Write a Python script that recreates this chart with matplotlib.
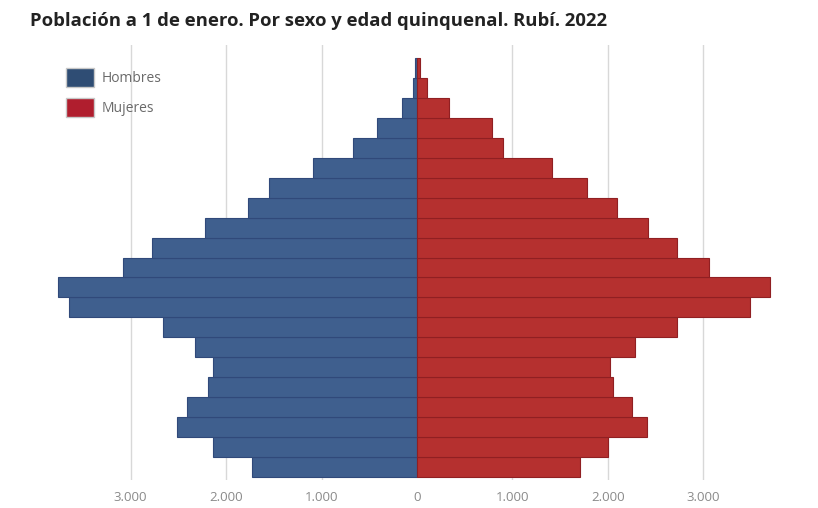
import matplotlib
matplotlib.use("Agg")
import matplotlib.pyplot as plt
from matplotlib.patches import Patch

age_groups = ["0-4", "5-9", "10-14", "15-19", "20-24", "25-29", "30-34", "35-39",
              "40-44", "45-49", "50-54", "55-59", "60-64", "65-69", "70-74", "75-79",
              "80-84", "85-89", "90-94", "95-99", "100+"]
hombres = [1728, 2136, 2513, 2408, 2188, 2136, 2325, 2660, 3644, 3759, 3079,
           2775, 2220, 1770, 1550, 1089, 670, 419, 157, 42, 21]
mujeres = [1707, 2000, 2408, 2251, 2052, 2021, 2283, 2723, 3487, 3696, 3058,
           2723, 2419, 2094, 1780, 1414, 900, 785, 335, 105, 31]
tick_values = [-3000, -2000, -1000, 0, 1000, 2000, 3000]
tick_labels = ["3.000", "2.000", "1.000", "0", "1.000", "2.000", "3.000"]

plt.rcParams['font.family'] = ['Open Sans', 'DejaVu Sans']

fig = plt.figure(figsize=(8.18, 5.08), dpi=100)
W, H = 818, 508
ax_left, ax_right, ax_top, ax_bottom = 40, 795, 45, 480
ax = fig.add_axes([ax_left / W, 1 - ax_bottom / H, (ax_right - ax_left) / W, (ax_bottom - ax_top) / H])

blue = "#3f5f8e"
red = "#b5302f"
y = list(range(len(age_groups)))
ax.barh(y, [-v for v in hombres], height=1.0, color=blue, edgecolor="#30497a", linewidth=0.8, zorder=3)
ax.barh(y, mujeres, height=1.0, color=red, edgecolor="#901f22", linewidth=0.8, zorder=3)

ax.set_xlim(-3950, 3960)
ax.set_ylim(-0.65, 21.15)
ax.set_xticks(tick_values)
ax.set_xticklabels(tick_labels, color="#8a8a8a", fontsize=9.5)
ax.set_yticks([])
ax.tick_params(axis="x", length=0, pad=8)
for s in ax.spines.values():
    s.set_visible(False)
for t in tick_values:
    if t != 0:
        ax.axvline(t, color="#d8d8d8", linewidth=1, zorder=1)

handles = [Patch(facecolor="#2f4d74", edgecolor="#c8c8c8", label="Hombres"),
           Patch(facecolor="#b01e2e", edgecolor="#c8c8c8", label="Mujeres")]
leg = ax.legend(handles=handles, loc="upper left", bbox_to_anchor=(0.0184, 0.977),
                frameon=False, fontsize=10, labelcolor="#6a6a6a",
                handlelength=2.0, handleheight=1.8, handletextpad=0.55, labelspacing=0.76)

fig.text(30 / W, 1 - 21 / H, "Población a 1 de enero. Por sexo y edad quinquenal. Rubí. 2022",
         fontsize=13.3, fontweight="bold", color="#222222", va="center", ha="left")

fig.savefig("out.png", dpi=100)
